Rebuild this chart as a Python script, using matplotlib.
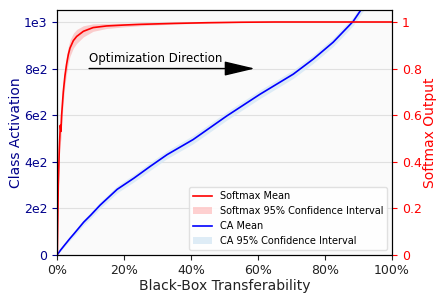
import matplotlib
matplotlib.use("Agg")
import matplotlib.pyplot as plt
import numpy as np

# transferability (%) vs softmax output (right axis)
sm_x = [0, 0.3, 0.6, 0.9, 1.1, 1.3, 1.5, 1.8, 2.3, 2.8, 3.3, 3.8, 4.8, 5.8, 7.8,
        10.7, 14.7, 20, 25, 35, 45, 55, 65, 80, 100]
sm_mean = [0.0, 0.30, 0.45, 0.556, 0.53, 0.60, 0.64, 0.70, 0.77, 0.82, 0.86, 0.888,
           0.92, 0.938, 0.96, 0.976, 0.983, 0.987, 0.99, 0.994, 0.997, 0.999, 1.0, 1.0, 1.0]
sm_ci = [0.0, 0.03, 0.04, 0.045, 0.045, 0.045, 0.045, 0.045, 0.04, 0.04, 0.035, 0.035,
         0.032, 0.03, 0.024, 0.016, 0.011, 0.008, 0.006, 0.003, 0.002, 0.001, 0.0, 0.0, 0.0]

# transferability (%) vs class activation (left axis)
ca_x = [0, 1, 2, 3.8, 5, 7.9, 10, 12.8, 17.9, 22.9, 27.8, 30.7, 32.8, 40.6, 50.6,
        60.5, 70.5, 76.5, 82.4, 88.4, 90.9, 95, 100]
ca_mean = [0, 20, 38, 70, 90, 140, 170, 213, 281, 329, 380, 409, 430, 495, 596,
           689, 776, 841, 913, 1003, 1056, 1130, 1230]
ca_ci = [0, 4, 6, 8, 10, 12, 13, 14, 15, 16, 17, 17, 17, 18, 18,
         18, 18, 18, 18, 18, 18, 18, 18]

left_ticks = [0, 200, 400, 600, 800, 1000]
left_labels = ["0", "2e2", "4e2", "6e2", "8e2", "1e3"]
right_ticks = [0, 0.2, 0.4, 0.6, 0.8, 1.0]
right_labels = ["0", "0.2", "0.4", "0.6", "0.8", "1"]
x_ticks = [0, 20, 40, 60, 80, 100]
x_labels = ["0%", "20%", "40%", "60%", "80%", "100%"]

fig = plt.figure(figsize=(4.44, 3.0), dpi=100)
ax = fig.add_axes([0.129, 0.151, 0.754, 0.816])
ax.set_facecolor("#fafafa")
ax2 = ax.twinx()

ca_x = np.array(ca_x)
ca_mean = np.array(ca_mean)
ca_ci = np.array(ca_ci)
sm_x = np.array(sm_x)
sm_mean = np.array(sm_mean)
sm_ci = np.array(sm_ci)

f_ca = ax.fill_between(ca_x, ca_mean - ca_ci, ca_mean + ca_ci, color="#d6e8f5",
                       alpha=0.8, lw=0, label="CA 95% Confidence Interval")
l_ca, = ax.plot(ca_x, ca_mean, color="blue", lw=1.2, label="CA Mean")
ax.set_ylim(0, 1052)
ax.set_xlim(0, 100)
ax.set_yticks(left_ticks)
ax.set_yticklabels(left_labels)
ax.set_xticks(x_ticks)
ax.set_xticklabels(x_labels)
ax.grid(axis="y", color="#e0e0e0", lw=0.8)
ax.set_axisbelow(True)
ax.tick_params(axis="y", colors="darkblue", labelsize=9)
ax.tick_params(axis="x", labelsize=9, colors="#222222")
ax.set_ylabel("Class Activation", color="darkblue", fontsize=10, labelpad=1)
ax.set_xlabel("Black-Box Transferability", fontsize=10, color="#222222", labelpad=1)

f_sm = ax2.fill_between(sm_x, sm_mean - sm_ci, np.minimum(sm_mean + sm_ci, 1.0),
                        color="red", alpha=0.18, lw=0,
                        label="Softmax 95% Confidence Interval")
l_sm, = ax2.plot(sm_x, sm_mean, color="red", lw=1.2, label="Softmax Mean")
ax2.set_ylim(0, 1.052)
ax2.set_yticks(right_ticks)
ax2.set_yticklabels(right_labels)
ax2.tick_params(axis="y", colors="red", labelsize=9)
ax2.set_ylabel("Softmax Output", color="red", fontsize=10, labelpad=1)

# arrow showing the optimization direction
ax2.annotate("", xy=(59, 0.8), xytext=(9.5, 0.8),
             arrowprops=dict(arrowstyle="-|>,head_length=1.9,head_width=0.45",
                             color="black", lw=1, mutation_scale=10,
                             shrinkA=0, shrinkB=0))
ax2.text(9.5, 0.815, "Optimization Direction", fontsize=8.5, va="bottom", ha="left")

ax2.legend([l_sm, f_sm, l_ca, f_ca],
           ["Softmax Mean", "Softmax 95% Confidence Interval", "CA Mean",
            "CA 95% Confidence Interval"],
           loc="lower right", fontsize=7, framealpha=0.9, edgecolor="#dddddd")

fig.savefig("out.png", dpi=100)
